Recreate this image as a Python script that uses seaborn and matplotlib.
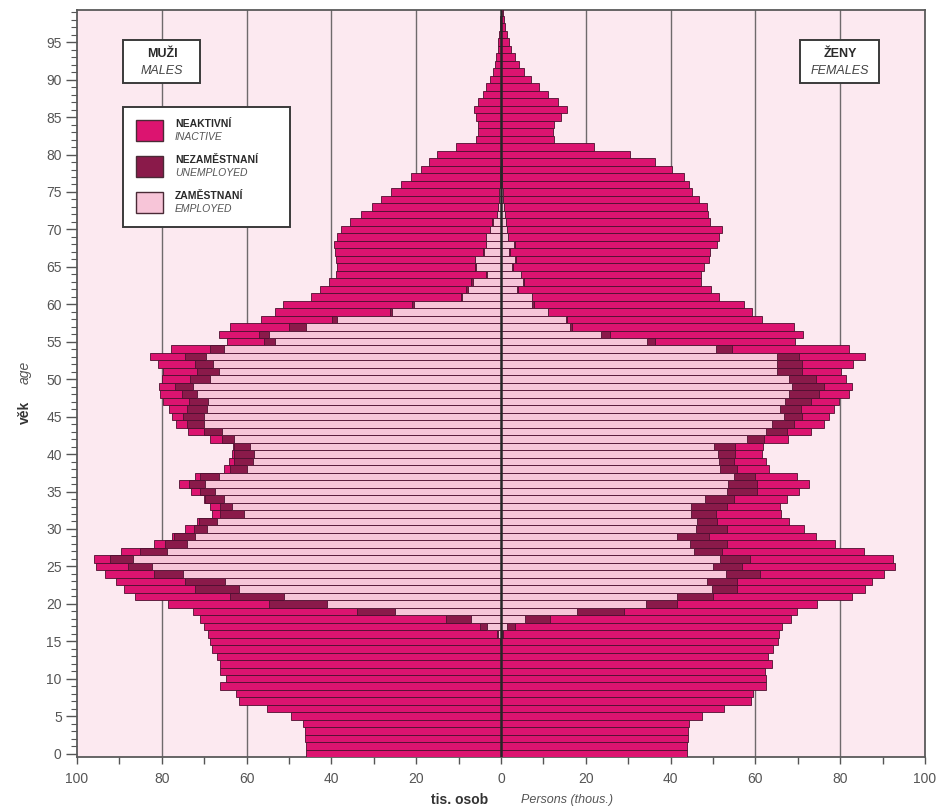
import numpy as np
import matplotlib
matplotlib.use("Agg")
import matplotlib.pyplot as plt
from matplotlib.patches import Rectangle
from matplotlib.ticker import MultipleLocator, FixedLocator
import seaborn as sns

# ---------------- data (thousands of persons) ----------------
ages = list(range(100))

male_employed = [0]*15 + [
    0.1, 0.8, 3.2, 7.1, 25.0, 41.0, 51.2, 61.9, 65.0, 75.0,       # 15-24
    82.3, 86.7, 78.8, 74.1, 72.1, 69.3, 67.0, 60.7, 63.4, 65.4,   # 25-34
    67.4, 69.7, 66.6, 59.9, 58.5, 58.2, 59.1, 63.0, 65.8, 70.1,   # 35-44
    70.1, 69.3, 69.2, 71.7, 72.7, 68.7, 66.6, 67.9, 69.5, 65.4,   # 45-54
    53.2, 54.8, 46.1, 38.6, 25.8, 20.5, 9.1, 7.9, 6.7, 3.2,       # 55-64
    5.9, 6.1, 4.1, 3.5, 3.5, 2.5, 2.0, 0.9, 0.6, 0.5,             # 65-74
    0.4, 0.3, 0.2, 0.2, 0.1, 0.1] + [0]*19                        # 75-99
male_unemployed = [0]*15 + [
    0.1, 0.2, 1.7, 5.9, 9.0, 13.8, 12.6, 10.2, 9.5, 6.8,
    5.6, 5.5, 6.3, 5.1, 5.1, 3.2, 4.3, 5.5, 2.8, 4.3,
    3.5, 4.0, 4.3, 3.9, 4.5, 4.8, 3.9, 2.8, 4.3, 4.0,
    4.9, 4.8, 4.5, 3.6, 4.1, 4.6, 5.1, 4.2, 5.0, 3.2,
    2.7, 2.3, 3.9, 1.2, 0.4, 0.4, 0.3, 0.3, 0.3, 0.4,
    0.2, 0.1, 0.1, 0.1, 0.1, 0.1, 0.1, 0.1, 0, 0,
    0, 0, 0, 0, 0, 0] + [0]*19
male_inactive = [
    45.9, 46.1, 46.3, 46.3, 46.6, 49.6, 55.2, 61.9, 62.6, 66.2,   # 0-9
    64.8, 66.2, 66.2, 67.0, 68.2,                                 # 10-14
    68.4, 68.0, 65.2, 58.1, 38.7, 23.8, 22.5, 16.9, 16.4, 11.6,   # 15-24
    7.6, 3.7, 4.5, 2.6, 0.4, 2.0, 0.3, 2.0, 2.4, 0.4,             # 25-34
    2.2, 2.2, 1.2, 1.6, 1.2, 0.4, 0.3, 2.9, 3.8, 2.5,             # 35-44
    2.6, 4.3, 5.9, 5.2, 3.8, 6.7, 8.0, 8.9, 8.2, 9.3,             # 45-54
    8.7, 9.5, 13.8, 16.7, 27.2, 30.5, 35.5, 34.4, 33.6, 35.4,     # 55-64
    32.5, 32.8, 35.0, 35.8, 35.0, 35.2, 33.4, 32.0, 29.9, 27.9,   # 65-74
    25.6, 23.3, 21.1, 18.6, 16.9, 14.9, 10.6, 6.0, 5.5, 5.5,      # 75-84
    5.8, 6.3, 5.4, 4.3, 3.6, 2.6, 2.0, 1.5, 1.1, 0.8,             # 85-94
    0.6, 0.4, 0.3, 0.2, 0.1]                                      # 95-99

female_employed = [0]*15 + [
    0.05, 0.3, 1.3, 5.7, 18.0, 34.2, 41.4, 49.8, 48.6, 53.0,
    50.0, 51.6, 45.5, 44.5, 41.4, 45.9, 46.3, 44.7, 44.7, 48.2,
    53.3, 53.5, 54.9, 51.6, 51.4, 51.1, 50.2, 58.1, 62.4, 64.0,
    66.7, 65.8, 66.9, 67.9, 68.7, 67.9, 65.2, 65.2, 65.2, 50.8,
    34.4, 23.6, 16.3, 15.3, 11.0, 7.4, 7.2, 3.8, 5.3, 4.6,
    2.7, 3.4, 2.0, 3.1, 1.6, 1.4, 1.2, 0.9, 0.7, 0.5,
    0.4, 0.3, 0.3, 0.2, 0.2, 0.1] + [0]*19
female_unemployed = [0]*15 + [
    0.05, 0.2, 2.0, 5.9, 10.9, 7.3, 8.6, 5.9, 7.1, 8.2,
    6.9, 7.1, 6.7, 8.8, 7.6, 7.4, 4.7, 5.9, 8.6, 6.7,
    7.1, 6.9, 5.1, 4.1, 3.5, 4.2, 5.1, 3.9, 5.1, 5.1,
    4.4, 4.9, 6.1, 7.1, 7.5, 6.3, 5.9, 5.9, 5.1, 3.7,
    2.0, 2.2, 0.4, 0.2, 0.1, 0.4, 0.1, 0.1, 0.1, 0.1,
    0.1, 0.1, 0.1, 0.1, 0.1, 0.1, 0, 0, 0, 0,
    0, 0, 0, 0, 0, 0] + [0]*19
female_inactive = [
    43.9, 43.9, 44.0, 44.1, 44.3, 47.3, 52.7, 59.0, 59.5, 62.4,
    62.4, 62.2, 64.0, 63.0, 64.2,
    65.2, 65.1, 63.0, 56.9, 40.8, 33.1, 32.9, 30.2, 31.9, 29.2,
    36.0, 33.7, 33.5, 25.5, 25.2, 18.2, 16.9, 15.4, 12.5, 12.5,
    9.9, 12.3, 9.7, 7.5, 7.5, 6.3, 6.6, 5.7, 5.5, 7.1,
    6.3, 7.9, 6.7, 7.1, 6.5, 7.1, 9.0, 12.0, 15.5, 27.6,
    32.9, 45.5, 52.3, 46.1, 48.2, 49.5, 44.1, 45.7, 41.8, 42.5,
    45.0, 45.5, 47.2, 47.8, 49.7, 50.7, 48.2, 47.9, 47.9, 46.1,
    44.7, 44.0, 42.8, 40.1, 36.2, 30.4, 22.0, 12.4, 12.3, 12.6,
    14.2, 15.6, 13.5, 11.2, 9.0, 7.0, 5.5, 4.2, 3.2, 2.4,
    1.8, 1.3, 0.9, 0.6, 0.4]

x_ticks = [-100, -80, -60, -40, -20, 0, 20, 40, 60, 80, 100]
x_tick_labels = ["100", "80", "60", "40", "20", "0", "20", "40", "60", "80", "100"]
y_ticks = list(range(0, 100, 5))

# ---------------- style ----------------
C_INACT = "#dc1470"
C_UNEMP = "#8a1a4a"
C_EMP = "#f7c5d8"
C_EDGE = "#4e1030"
C_BG = "#fce9f0"
C_GRID = "#6f6a6c"
C_TXT = "#555555"

sns.set_style("ticks")
plt.rcParams["font.family"] = ["Liberation Sans", "DejaVu Sans"]

W, H = 946, 808
fig = plt.figure(figsize=(W / 100, H / 100), dpi=100)
fig.patch.set_facecolor("white")

def fx(px):
    return px / W

def fy(py):
    return 1 - py / H

ax = fig.add_axes([fx(77), fy(757), fx(925) - fx(77), fy(10) - fy(757)])
ax.set_facecolor(C_BG)

m_emp = np.array(male_employed)
m_work = m_emp + np.array(male_unemployed)
m_tot = m_work + np.array(male_inactive)
f_emp = np.array(female_employed)
f_work = f_emp + np.array(female_unemployed)
f_tot = f_work + np.array(female_inactive)

layers = [
    (-m_tot, C_INACT), (-m_work, C_UNEMP), (-m_emp, C_EMP),
    (f_tot, C_INACT), (f_work, C_UNEMP), (f_emp, C_EMP),
]
for vals, col in layers:
    sns.barplot(x=vals, y=ages, orient="y", native_scale=True, width=1.0,
                color=col, saturation=1, edgecolor=C_EDGE, linewidth=0.6,
                errorbar=None, ax=ax, zorder=3)

ax.set_xlim(-100, 100)
ax.set_ylim(-0.45, 99.3)
ax.set_xlabel("")
ax.set_ylabel("")

# grid and zero line
for gx in [-80, -60, -40, -20, 20, 40, 60, 80]:
    ax.axvline(gx, color=C_GRID, lw=1.0, zorder=1)
ax.axvline(0, color="#262626", lw=1.8, zorder=10)

# ticks
ax.xaxis.set_major_locator(FixedLocator(x_ticks))
ax.set_xticklabels(x_tick_labels)
ax.xaxis.set_minor_locator(MultipleLocator(10))
ax.yaxis.set_major_locator(FixedLocator(y_ticks))
ax.set_yticklabels([str(v) for v in y_ticks])
ax.yaxis.set_minor_locator(MultipleLocator(1))
ax.tick_params(axis="x", which="both", direction="out", length=5, width=1.0,
               color="#555555", labelsize=10, labelcolor=C_TXT, pad=6)
ax.tick_params(axis="y", which="major", direction="out", length=8, width=1.0,
               color="#555555", labelsize=10, labelcolor=C_TXT, pad=3)
ax.tick_params(axis="y", which="minor", direction="out", length=4, width=0.8,
               color="#555555")
for s in ax.spines.values():
    s.set_color("#5a5a5a")
    s.set_linewidth(1.3)
    s.set_visible(True)

# axis captions
fig.text(fx(25), fy(412), "věk", rotation=90, ha="center", va="center",
         fontsize=10, fontweight="bold", color="#333333")
fig.text(fx(25), fy(372), "age", rotation=90, ha="center", va="center",
         fontsize=10, style="italic", color="#555555")
fig.text(fx(460), fy(800), "tis. osob", ha="center", va="center",
         fontsize=10, fontweight="bold", color="#333333")
fig.text(fx(567), fy(800), "Persons (thous.)", ha="center", va="center",
         fontsize=9, style="italic", color="#555555")

# boxes
def box(x0, y0, x1, y1):
    fig.add_artist(Rectangle((fx(x0), fy(y1)), fx(x1) - fx(x0), fy(y0) - fy(y1),
                             transform=fig.transFigure, facecolor="white",
                             edgecolor="#3a3a3a", lw=1.4, zorder=20))

box(123, 40, 200, 83)
fig.text(fx(162), fy(54), "MUŽI", ha="center", va="center", fontsize=9,
         fontweight="bold", color="#2a2a2a", zorder=21)
fig.text(fx(162), fy(71), "MALES", ha="center", va="center", fontsize=9,
         style="italic", color="#444444", zorder=21)

box(800, 40, 879, 83)
fig.text(fx(840), fy(54), "ŽENY", ha="center", va="center", fontsize=9,
         fontweight="bold", color="#2a2a2a", zorder=21)
fig.text(fx(840), fy(71), "FEMALES", ha="center", va="center", fontsize=9,
         style="italic", color="#444444", zorder=21)

# legend
box(123, 107, 290, 227)
legend_items = [
    (C_INACT, "NEAKTIVNÍ", "INACTIVE", 120),
    (C_UNEMP, "NEZAMĚSTNANÍ", "UNEMPLOYED", 156),
    (C_EMP, "ZAMĚSTNANÍ", "EMPLOYED", 192),
]
for col, cz, en, ytop in legend_items:
    fig.add_artist(Rectangle((fx(136), fy(ytop + 21)), fx(163) - fx(136),
                             fy(ytop) - fy(ytop + 21), transform=fig.transFigure,
                             facecolor=col, edgecolor="#4a2a36", lw=1.0, zorder=21))
    fig.text(fx(175), fy(ytop + 4), cz, ha="left", va="center", fontsize=7.5,
             fontweight="bold", color="#2a2a2a", zorder=22)
    fig.text(fx(175), fy(ytop + 17), en, ha="left", va="center", fontsize=7.5,
             style="italic", color="#555555", zorder=22)

fig.savefig("out.png", dpi=100, facecolor="white")
